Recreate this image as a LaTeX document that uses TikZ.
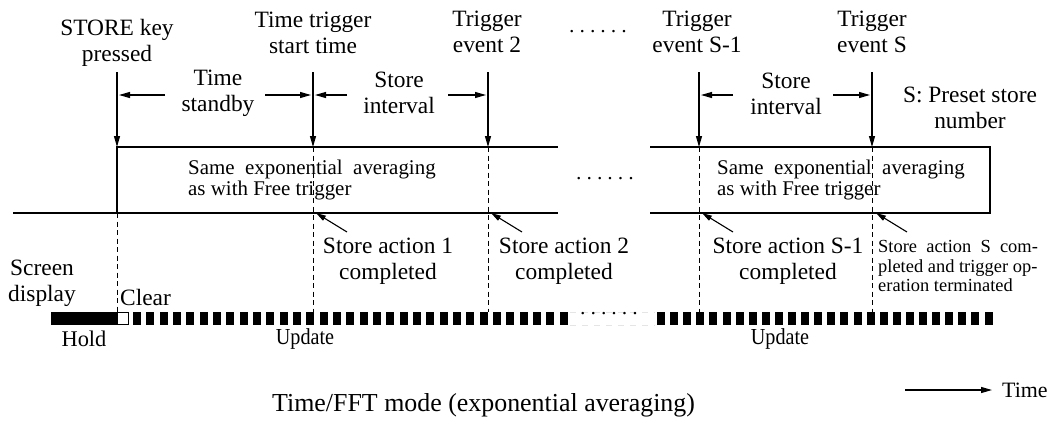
\documentclass[tikz,border=0pt]{standalone}
\usepackage{fontspec}
\setmainfont{Liberation Serif}
\newfontfamily\condfont{Liberation Serif}[FakeStretch=0.88]
\usetikzlibrary{arrows.meta}
\begin{document}
\begin{tikzpicture}[x=1bp,y=-1bp,
  lbl/.style={font=\fontsize{23.5}{26.5}\selectfont, align=center, inner sep=0pt},
  boxtxt/.style={font=\fontsize{21}{21}\selectfont, align=left, inner sep=0pt, anchor=west},
  smalltxt/.style={font=\fontsize{18.5}{19.5}\selectfont, align=left, inner sep=0pt},
  bartxt/.style={font=\condfont\fontsize{23}{24}\selectfont, inner sep=0pt},
  sig/.style={line width=2.8bp},
  evarrow/.style={line width=1.1bp, -{Triangle[length=11bp,width=6bp]}},
  dimarrow/.style={line width=1.1bp, -{Triangle[length=11bp,width=6bp]}},
  actarrow/.style={line width=1.1bp, -{Triangle[length=10bp,width=5.5bp]}},
  vdash/.style={line width=0.9bp, dash pattern=on 5bp off 3.5bp},
  dotsl/.style={font=\fontsize{21}{21}\selectfont, inner sep=0pt}
]
\useasboundingbox (0,0) rectangle (1059,422);

% ---- top labels
\node[lbl] (l0) at (117,43) {STORE key\\pressed};
\node[lbl] (l1) at (313,33) {Time trigger\\start time};
\node[lbl] (l2) at (487,32) {Trigger\\event 2};
\node[lbl] (l3) at (697,32) {Trigger\\event S-1};
\node[lbl] (l4) at (872,32) {Trigger\\event S};
\node[dotsl] (dt) at (598,34) {\textperiodcentered\,\textperiodcentered\,\textperiodcentered\,\textperiodcentered\,\textperiodcentered\,\textperiodcentered};

% ---- event coordinates
\foreach \n/\x in {0/117,1/313,2/488,3/699,4/872}{
  \coordinate (t\n) at (\x,72);
  \coordinate (h\n) at (\x,147);
  \coordinate (b\n) at (\x,312);
}
\coordinate (l0b) at (117,213);

\foreach \n in {0,...,4}{ \draw[evarrow] (t\n) -- (h\n); }

% ---- dimension labels and arrows
\node[lbl] (ts) at (218,93) {Time\\standby};
\node[lbl] (si1) at (399,93) {Store\\interval};
\node[lbl] (si2) at (786,94) {Store\\interval};
\node[lbl] (pn) at (970,108) {S: Preset store\\number};

\coordinate (a1) at (165,95);
\coordinate (a2) at (265,95);
\coordinate (a3) at (347,95);
\coordinate (a4) at (448,95);
\coordinate (a5) at (733,95);
\coordinate (a6) at (833,95);
\draw[dimarrow] (a1) -- (119,95);
\draw[dimarrow] (a2) -- (311,95);
\draw[dimarrow] (a3) -- (315,95);
\draw[dimarrow] (a4) -- (486,95);
\draw[dimarrow] (a5) -- (701,95);
\draw[dimarrow] (a6) -- (870,95);

% ---- signal
\draw[sig] (13,213) -- (558,213);
\draw[sig] (117,213) -- (117,147) -- (558,147);
\draw[sig] (650,147) -- (990,147) -- (990,213) -- (650,213);

\node[boxtxt] (bx1) at (188,180) {Same\ \ exponential\ \ averaging\\as with Free trigger};
\node[boxtxt] (bx2) at (717,180) {Same\ \ exponential\ \ averaging\\as with Free trigger};
\node[dotsl] (dm) at (605,181) {\textperiodcentered\,\textperiodcentered\,\textperiodcentered\,\textperiodcentered\,\textperiodcentered\,\textperiodcentered};

% ---- dashed verticals
\draw[vdash] (l0b) -- (b0);
\foreach \n in {1,...,4}{ \draw[vdash] (h\n) -- (b\n); }

% ---- store action labels and arrows
\node[lbl] (s1) at (388,261) {Store action 1\\completed};
\node[lbl] (s2) at (564,261) {Store action 2\\completed};
\node[lbl] (s3) at (788,261) {Store action S-1\\completed};
\node[smalltxt, anchor=west] (s4) at (878,266) {Store\ \ action\ \ S\ \ com-\\pleted and trigger op-\\eration terminated};

\coordinate (c1) at (347,232); \coordinate (d1) at (316,213);
\coordinate (c2) at (522,232); \coordinate (d2) at (491,213);
\coordinate (c3) at (733,232); \coordinate (d3) at (702,213);
\coordinate (c4) at (907,232); \coordinate (d4) at (876,213);
\foreach \n in {1,...,4}{ \draw[actarrow] (c\n) -- (d\n); }

% ---- screen display
\node[lbl] (sd) at (42,283) {Screen\\display};
\node[lbl, anchor=west] (clr) at (120,297) {Clear};

\fill (51,312) rectangle (117,325);
\draw[line width=1bp, fill=white] (117.5,312.5) rectangle (128,324.5);
\foreach \i in {0,...,32}{ \fill (133+13.33*\i,312) rectangle ++(8,13); }
\foreach \i in {0,...,25}{ \fill (657+13.1*\i,312) rectangle ++(8,13); }
\draw[gray!20, line width=0.6bp, dash pattern=on 6bp off 6bp] (570,312) -- (655,312) (570,325) -- (655,325);
\node[dotsl] (db) at (609,316) {\textperiodcentered\,\textperiodcentered\,\textperiodcentered\,\textperiodcentered\,\textperiodcentered\,\textperiodcentered};

\node[font=\fontsize{22.5}{24}\selectfont, inner sep=0pt] (hold) at (84,339) {Hold};
\node[bartxt] (up1) at (305,339) {Update};
\node[bartxt] (up2) at (780,339) {Update};

% ---- bottom
\node[font=\fontsize{26}{26}\selectfont, inner sep=0pt, anchor=west] (title) at (272,405) {Time/FFT mode (exponential averaging)};
\node[font=\fontsize{22}{22}\selectfont, inner sep=0pt, anchor=west] (tm) at (1002,390) {Time};
\coordinate (tstart) at (905,390);
\draw[line width=1.1bp, -{Triangle[length=11bp,width=6bp]}] (tstart) -- (tm.west -| 992,0);
\end{tikzpicture}
\end{document}
